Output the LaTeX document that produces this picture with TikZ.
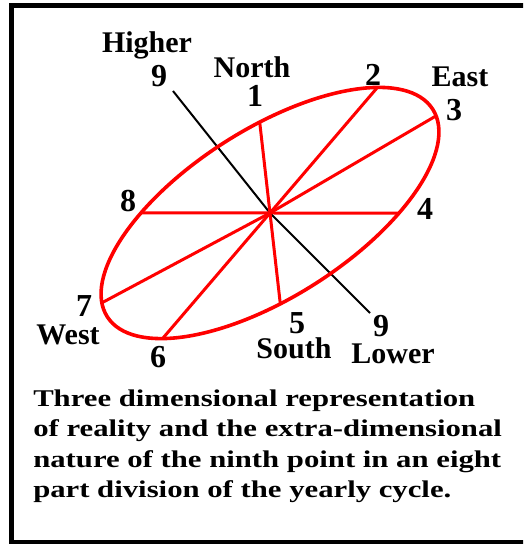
\documentclass[tikz,border=0pt]{standalone}
\usepackage{fontspec}
\setmainfont{Liberation Serif}
\usetikzlibrary{calc}

\begin{document}
\begin{tikzpicture}[x=1pt, y=1pt,
  lab/.style={font=\fontsize{30}{30}\selectfont\bfseries, inner sep=0pt, anchor=base},
  num/.style={font=\fontsize{32}{32}\selectfont\bfseries, inner sep=0pt, anchor=base},
  rim/.style={red, line width=3.6pt},
  spoke/.style={red, line width=3pt},
  axis9/.style={black, line width=2pt},
  capt/.style={font=\fontsize{24}{30.5}\selectfont\bfseries, align=left, anchor=base west, inner sep=0pt, xscale=1.28}
]
\useasboundingbox (0,0) rectangle (523,544);
\clip (0,0) rectangle (523,544);
\draw[line width=5.5pt] (11.5,1) rectangle (540,538.5);

\coordinate (c) at (270,331);
\coordinate (h9) at (173,453);
\coordinate (l9) at (370,231);
\draw[axis9] (h9) -- (c) -- (l9);

\begin{scope}[shift={(c)}, rotate=32.5]
  \draw[rim] (0,0) ellipse [x radius=193pt, y radius=84pt];
  \coordinate (p1) at (78:193pt and 84pt);
  \coordinate (p2) at (35:193pt and 84pt);
  \coordinate (p3) at (-5:193pt and 84pt);
  \coordinate (p4) at (-55.7:193pt and 84pt);
  \coordinate (p5) at (258:193pt and 84pt);
  \coordinate (p6) at (215:193pt and 84pt);
  \coordinate (p7) at (170:193pt and 84pt);
  \coordinate (p8) at (124.3:193pt and 84pt);
\end{scope}
\foreach \i in {1,...,8}
  \draw[spoke] (c) -- (p\i);

\node[lab] (higher) at (147,491) {Higher};
\node[num] (n9a) at (159,457) {9};
\node[lab] (north) at (252,466) {North};
\node[num] (n1) at (255,437) {1};
\node[num] (n2) at (373,458) {2};
\node[lab] (east) at (460,457) {East};
\node[num] (n3) at (454,423) {3};
\node[num] (n8) at (128,332) {8};
\node[num] (n4) at (425,324) {4};
\node[num] (n7) at (84,227) {7};
\node[lab] (west) at (68,199) {West};
\node[num] (n6) at (158,176) {6};
\node[num] (n5) at (297,210) {5};
\node[lab] (south) at (294,185) {South};
\node[num] (n9b) at (381,207) {9};
\node[lab] (lower) at (393,180) {Lower};

\node[capt] (caption) at (33,46) {Three dimensional representation\\
  of reality and the extra-dimensional\\
  nature of the ninth point in an eight\\
  part division of the yearly cycle.};
\end{tikzpicture}
\end{document}
